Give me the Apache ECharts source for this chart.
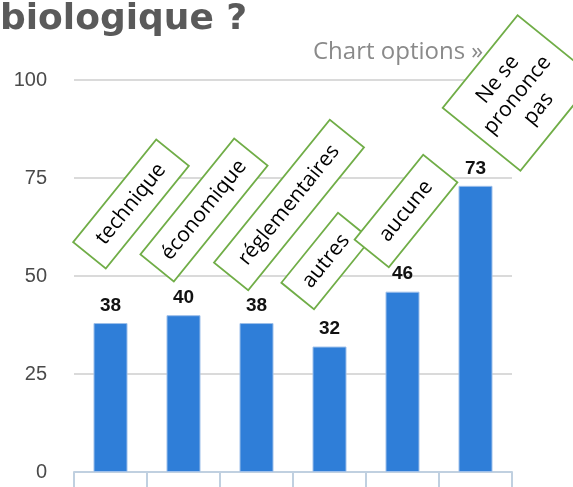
<!DOCTYPE html>
<html>
<head>
<meta charset="utf-8">
<script src="https://cdn.jsdelivr.net/npm/echarts@6/dist/echarts.min.js"></script>
<style>
    html, body { margin: 0; padding: 0; background: #fff; }
    #chart { width: 573px; height: 487px; }
</style>
</head>
<body>
<div id="chart"></div>
<script>
// données
const categories = ['technique', 'économique', 'réglementaires', 'autres', 'aucune', 'Ne se prononce pas'];
const values = [38, 40, 38, 32, 46, 73];
const yMin = 0, yMax = 100, yStep = 25;

// cadres tournés (centre, longueur, hauteur) - mise en page seulement
const boxLayout = [
    { cx: 131, cy: 204, w: 132, h: 42 },
    { cx: 204, cy: 210, w: 149, h: 43 },
    { cx: 289, cy: 205, w: 184, h: 44 },
    { cx: 326, cy: 261, w: 90, h: 42 },
    { cx: 406, cy: 211, w: 109, h: 44 },
    { cx: 519, cy: 93, w: 119, h: 100 }
];
const angle = 51 * Math.PI / 180;

const chart = echarts.init(document.getElementById('chart'));

const boxes = categories.map((name, i) => {
    const b = boxLayout[i];
    return {
        type: 'group',
        x: b.cx,
        y: b.cy,
        rotation: angle,
        children: [
            {
                type: 'rect',
                z: 100 + i * 2,
                shape: { x: -b.w / 2, y: -b.h / 2, width: b.w, height: b.h },
                style: { fill: '#fff', stroke: '#70ad47', lineWidth: 1.8 }
            },
            {
                type: 'text',
                z: 101 + i * 2,
                style: {
                    text: name,
                    x: 0, y: 0,
                    align: 'center',
                    verticalAlign: 'middle',
                    width: b.w - 12,
                    overflow: 'break',
                    lineHeight: 25,
                    fontSize: 21,
                    fontFamily: 'Open Sans',
                    fill: '#000'
                }
            }
        ]
    };
});

const option = {
    animation: false,
    title: {
        text: 'biologique ?',
        left: 0,
        top: 2,
        padding: 0,
        textStyle: { fontSize: 36, fontWeight: 'bold', color: '#5a5a5a', fontFamily: 'DejaVu Sans' }
    },
    grid: { left: 74, right: 61, top: 80, bottom: 15 },
    xAxis: {
        type: 'category',
        data: categories,
        axisLine: { lineStyle: { color: '#c0d0e0', width: 2 } },
        axisTick: { show: true, interval: 0, length: 20, lineStyle: { color: '#c0d0e0', width: 2 } },
        axisLabel: { show: false, interval: 0 }
    },
    yAxis: {
        type: 'value',
        min: yMin,
        max: yMax,
        interval: yStep,
        axisLine: { show: false },
        axisTick: { show: false },
        axisLabel: {
            margin: 27,
            fontSize: 20,
            color: '#4a4a4a',
            fontFamily: 'Liberation Sans',
            padding: [5, 0, 0, 0]
        },
        splitLine: { lineStyle: { color: '#dadada', width: 2 } }
    },
    series: [{
        type: 'bar',
        data: values,
        barWidth: 34,
        itemStyle: { color: '#2f7ed8', borderColor: '#9dbfea', borderWidth: 1 },
        label: {
            show: true,
            position: 'top',
            distance: 8,
            fontSize: 19,
            fontWeight: 'bold',
            color: '#111',
            fontFamily: 'Liberation Sans'
        }
    }],
    graphic: [
        {
            type: 'text',
            x: 313,
            y: 52,
            z: 50,
            style: {
                text: 'Chart options »',
                fontSize: 24,
                fontFamily: 'Open Sans',
                fill: '#8a8a8a',
                verticalAlign: 'middle'
            }
        }
    ].concat(boxes)
};

chart.setOption(option);
</script>
</body>
</html>
